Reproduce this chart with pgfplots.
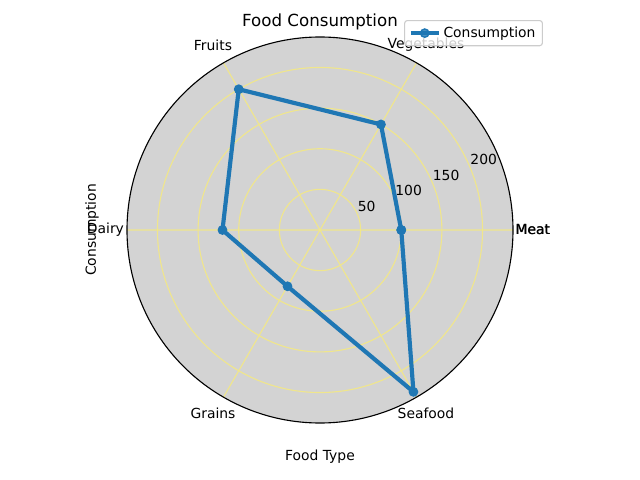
\documentclass[border=0pt]{standalone}
\usepackage{fontspec}
\setmainfont{DejaVu Sans}
\usepackage{pgfplots}
\pgfplotsset{compat=1.18}
\usepgfplotslibrary{polar}
\definecolor{tabblue}{HTML}{1F77B4}
\definecolor{bggray}{HTML}{D3D3D3}
\definecolor{gridcol}{HTML}{F0E68C}
\definecolor{legedge}{HTML}{CCCCCC}
\begin{document}
\begin{tikzpicture}
\path[use as bounding box] (0,0) rectangle (460.8pt,345.6pt);
\begin{polaraxis}[
  at={(230.4pt,180pt)}, anchor=origin,
  scale only axis, width=277.92pt, height=277.92pt,
  ymin=0, ymax=237.5, xmin=0, xmax=360,
  xtick={0,60,120,180,240,300}, ytick={50,100,150,200},
  xticklabels={}, yticklabels={},
  major tick length=0pt,
  grid=major,
  major grid style={gridcol, line width=0.8pt},
  x axis line style={black, line width=0.8pt},
  y axis line style={draw=none},
  axis background/.style={fill=bggray},
  clip=false,
  legend style={at={(1.0777,1.044)}, anchor=north east, draw=legedge, rounded corners=2pt, fill=white, fill opacity=0.8, text opacity=1, font=\fontsize{10}{12}\selectfont, inner xsep=3pt, inner ysep=2.5pt, line width=0.8pt},
  legend image code/.code={\draw[mark repeat=2,mark phase=2,#1] plot coordinates {(0pt,0pt) (10pt,0pt) (20pt,0pt)};},
]
\addplot[tabblue, line width=3pt, mark=*, mark size=3pt, mark options={solid, line width=1pt}] coordinates {(0,100) (60,150) (120,200) (180,120) (240,80) (300,230) (360,100)};
\addlegendentry{Consumption}
\node[anchor=west, inner sep=0pt, xshift=1.5pt] at (axis cs:0,237.5) {Meat};
\node[anchor=west, inner sep=0pt, xshift=1.8pt] at (axis cs:0,237.5) {Meat};
\node[anchor=center, inner sep=0pt, xshift=6.84pt, yshift=12.9pt] at (axis cs:60,237.5) {Vegetables};
\node[anchor=center, inner sep=0pt, xshift=-7.56pt, yshift=12.9pt] at (axis cs:120,237.5) {Fruits};
\node[anchor=east, inner sep=0pt, xshift=-2pt] at (axis cs:180,237.5) {Dairy};
\node[anchor=center, inner sep=0pt, xshift=-7.56pt, yshift=-11.5pt] at (axis cs:240,237.5) {Grains};
\node[anchor=center, inner sep=0pt, xshift=6.84pt, yshift=-11.5pt] at (axis cs:300,237.5) {Seafood};
\node[anchor=south west, inner sep=0pt, yshift=2pt] at (axis cs:22.5,50) {50};
\node[anchor=south west, inner sep=0pt, yshift=2pt] at (axis cs:22.5,100) {100};
\node[anchor=south west, inner sep=0pt, yshift=2pt] at (axis cs:22.5,150) {150};
\node[anchor=south west, inner sep=0pt, yshift=2pt] at (axis cs:22.5,200) {200};
\end{polaraxis}
\node[font=\fontsize{12}{14.4}\selectfont] at (230.4pt,329.8pt) {Food Consumption};
\node at (230.4pt,16.6pt) {Food Type};
\node[rotate=90] at (66.2pt,180pt) {Consumption};
\end{tikzpicture}
\end{document}
